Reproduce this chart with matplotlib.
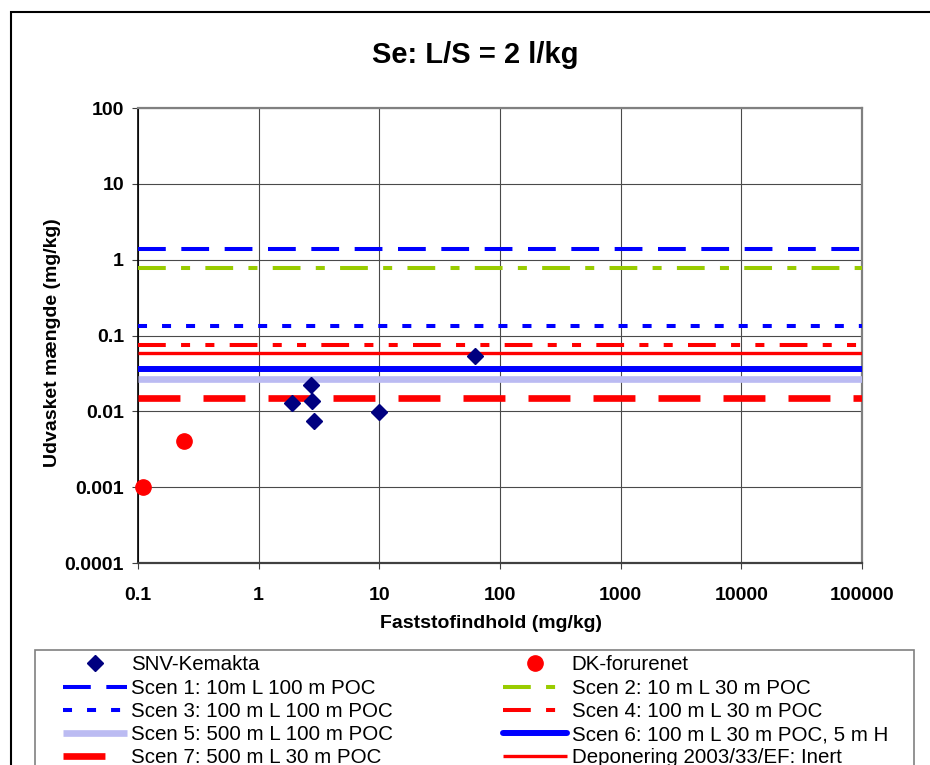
import matplotlib
matplotlib.use('Agg')
import matplotlib.pyplot as plt
from matplotlib.patches import Rectangle

plt.rcParams['font.family'] = ['Liberation Sans', 'DejaVu Sans']
plt.rcParams['lines.scale_dashes'] = False

# measured points
snv_x = [1.9, 2.7, 2.75, 2.9, 10, 62]
snv_y = [0.013, 0.0225, 0.0137, 0.0074, 0.0098, 0.053]
dk_x = [0.11, 0.24]
dk_y = [0.001, 0.0041]

# scenario limits (horizontal lines across the whole x range)
line_x = [0.1, 100000]
scen_names = ['Scen 1: 10m L 100 m POC', 'Scen 2: 10 m L 30 m POC',
              'Scen 3: 100 m L 100 m POC', 'Scen 4: 100 m L 30 m POC',
              'Scen 5: 500 m L 100 m POC', 'Scen 6: 100 m L 30 m POC, 5 m H',
              'Scen 7: 500 m L 30 m POC', 'Deponering 2003/33/EF: Inert']
scen_values = [1.4, 0.78, 0.134, 0.075, 0.027, 0.036, 0.015, 0.059]

xticks = [0.1, 1, 10, 100, 1000, 10000, 100000]
xtick_labels = ['0.1', '1', '10', '100', '1000', '10000', '100000']
yticks = [0.0001, 0.001, 0.01, 0.1, 1, 10, 100]
ytick_labels = ['0.0001', '0.001', '0.01', '0.1', '1', '10', '100']

# color, linewidth (pt), dash pattern (pt) per scenario
styles = [
    ('#0000FF', 2.9, (0, (20, 11.2))),
    ('#99CC00', 2.9, (0, (20, 11, 6.5, 11))),
    ('#0000FF', 2.9, (0, (6.5, 10.8))),
    ('#FF0000', 2.9, (0, (20, 11, 6.5, 11, 6.5, 11))),
    ('#BBBBF2', 4.8, '-'),
    ('#0000FF', 4.3, '-'),
    ('#FF0000', 4.8, (0, (30.2, 16.6))),
    ('#FF0000', 2.4, '-'),
]

W, H = 930, 765
fig = plt.figure(figsize=(W / 100, H / 100), dpi=100)
ax = fig.add_axes([138 / W, 1 - 563 / H, 724 / W, 455 / H])

ax.set_xscale('log')
ax.set_yscale('log')
ax.set_xlim(0.1, 100000)
ax.set_ylim(0.0001, 100)

lines = []
for name, val, (c, lw, ls) in zip(scen_names, scen_values, styles):
    ln, = ax.plot(line_x, [val, val], color=c, lw=lw, linestyle=ls,
                  solid_capstyle='butt', dash_capstyle='butt', zorder=3,
                  label=name)
    lines.append(ln)
lines[5].set_solid_capstyle('round')

snv, = ax.plot(snv_x, snv_y, linestyle='none', marker='D', ms=8,
               color='#000080', zorder=5, label='SNV-Kemakta')
dk, = ax.plot(dk_x, dk_y, linestyle='none', marker='o', ms=11,
              color='#FF0000', zorder=5, label='DK-forurenet', clip_on=False)

ax.set_xticks(xticks)
ax.set_xticklabels(xtick_labels)
ax.set_yticks(yticks)
ax.set_yticklabels(ytick_labels)
ax.minorticks_off()
ax.tick_params(axis='both', direction='out', length=4, width=0.8,
               color='#404040', labelsize=14)
ax.tick_params(axis='x', pad=13)
ax.tick_params(axis='y', pad=6)
for lab in ax.get_xticklabels() + ax.get_yticklabels():
    lab.set_fontweight('bold')

ax.grid(True, color='#4a4a4a', lw=0.8)
ax.set_axisbelow(True)
for side in ['top', 'right']:
    ax.spines[side].set_color('#808080')
    ax.spines[side].set_linewidth(1.6)
ax.spines['left'].set_color('black')
ax.spines['left'].set_linewidth(1.2)
ax.spines['bottom'].set_color('#404040')
ax.spines['bottom'].set_linewidth(1.6)

ax.set_xlabel('Faststofindhold (mg/kg)', fontsize=14, fontweight='bold')
ax.xaxis.set_label_coords((491 - 138) / 724, -(615 - 563) / 455)
ax.set_ylabel('Udvasket mængde (mg/kg)', fontsize=14, fontweight='bold')
ax.yaxis.set_label_coords((61 - 138) / 724, 0.485)

fig.text(475 / W, 1 - 63 / H, 'Se: L/S = 2 l/kg', fontsize=21,
         fontweight='bold', ha='center', va='baseline')

# outer chart border, runs off the right and bottom edges
fig.add_artist(Rectangle((11 / W, -0.1), 1.0, 1.1 - 12 / H,
                         transform=fig.transFigure, fill=False,
                         ec='black', lw=1.5))
# legend box
fig.add_artist(Rectangle((35 / W, -0.1), (914 - 35) / W, 0.1 + 1 - 650 / H,
                         transform=fig.transFigure, fill=False,
                         ec='#808080', lw=1.2))

handles = [snv, lines[0], lines[2], lines[4], lines[6],
           dk, lines[1], lines[3], lines[5], lines[7]]
fig.legend(handles, [h.get_label() for h in handles], loc='upper left',
           bbox_to_anchor=(63 / W, 1 - 655.5 / H), ncol=2, frameon=False,
           fontsize=14.8, handlelength=3.11, handletextpad=0.22,
           columnspacing=5.35, labelspacing=0.205, borderpad=0,
           borderaxespad=0, numpoints=1)

fig.savefig('out.png', dpi=100)
